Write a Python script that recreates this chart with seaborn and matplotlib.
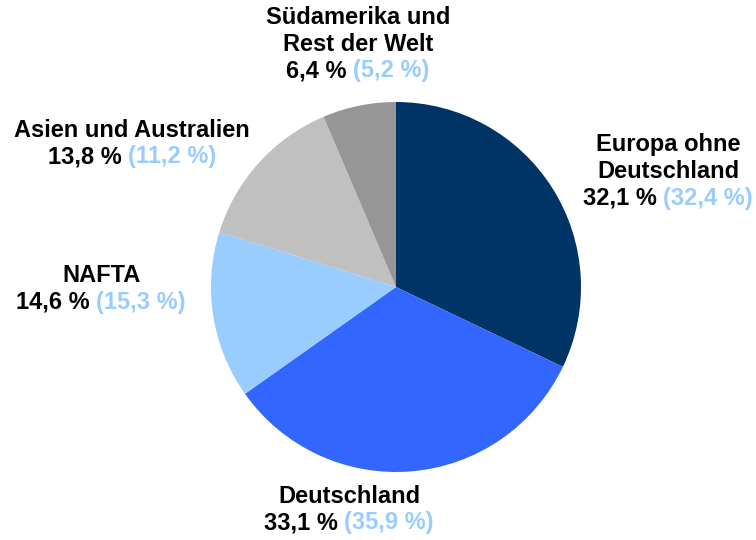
import matplotlib
matplotlib.use('Agg')
import matplotlib.pyplot as plt
import seaborn as sns

# data
regions = ['Europa ohne\nDeutschland', 'Deutschland', 'NAFTA',
           'Asien und Australien', 'Südamerika und\nRest der Welt']
share_now = [32.1, 33.1, 14.6, 13.8, 6.4]
share_prev = [32.4, 35.9, 15.3, 11.2, 5.2]
colors = ['#003366', '#3366FF', '#99CCFF', '#C0C0C0', '#969696']
prev_color = '#99CCFF'

# label centres in pixels (x, y of last line from top)
label_pos = [(668, 198), (349, 523), (101, 302), (132, 157), (358, 71)]

sns.set_theme(style='white')
plt.rcParams['font.family'] = ['Liberation Sans', 'DejaVu Sans']

W, H = 756, 540
fig = plt.figure(figsize=(W / 100, H / 100), dpi=100)
ax = fig.add_axes([0, 0, 1, 1])

ax.pie(share_now, colors=sns.color_palette(colors), startangle=90,
       counterclock=False, center=(396, H - 287), radius=185,
       wedgeprops=dict(linewidth=0))

# pie() resets the limits, so set them afterwards
ax.set_xlim(0, W)
ax.set_ylim(0, H)
ax.set_aspect('equal')
ax.axis('off')

fs = 17
line_h = 26.8
renderer = fig.canvas.get_renderer()


def fmt(v):
    return f'{v:.1f}'.replace('.', ',') + ' %'


for name, now, prev, (cx, ly) in zip(regions, share_now, share_prev, label_pos):
    names = name.split('\n')
    for i, nm in enumerate(reversed(names)):
        ax.text(cx, H - ly + (i + 1) * line_h, nm, ha='center', va='center',
                fontsize=fs, fontweight='bold', color='black')
    black = ax.text(0, H - ly, fmt(now) + ' ', ha='left', va='center',
                    fontsize=fs, fontweight='bold', color='black')
    blue = ax.text(0, H - ly, '(' + fmt(prev) + ')', ha='left', va='center',
                   fontsize=fs, fontweight='bold', color=prev_color)
    wb = black.get_window_extent(renderer).width
    wl = blue.get_window_extent(renderer).width
    x0 = cx - (wb + wl) / 2
    black.set_x(x0)
    blue.set_x(x0 + wb)

fig.savefig('out.png', dpi=100)
